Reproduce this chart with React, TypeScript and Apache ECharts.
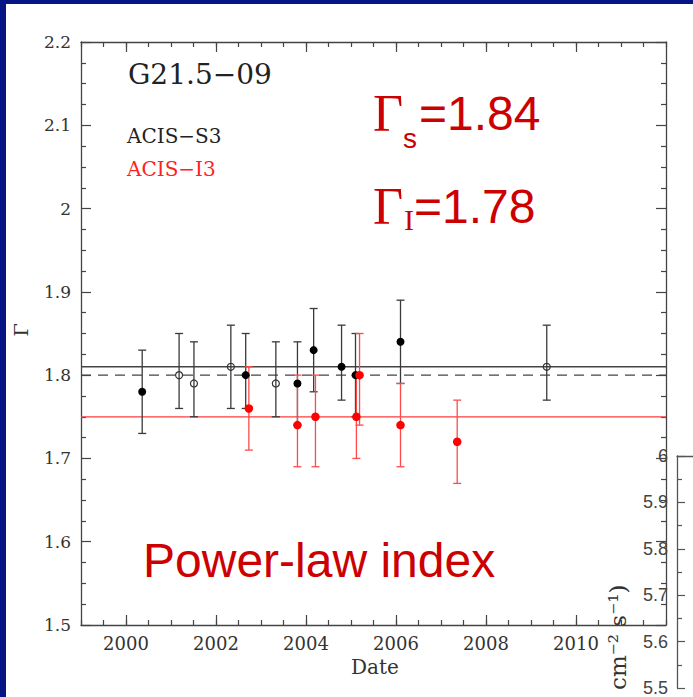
import React, { useEffect, useRef } from "react";
import * as echarts from "echarts";

// ---- data ----
const s3FilledYear = [2000.36, 2002.66, 2003.81, 2004.17, 2004.79, 2005.1, 2006.1];
const s3FilledGamma = [1.78, 1.8, 1.79, 1.83, 1.81, 1.8, 1.84];
const s3FilledLo = [1.73, 1.76, 1.74, 1.78, 1.77, 1.75, 1.79];
const s3FilledHi = [1.83, 1.85, 1.84, 1.88, 1.86, 1.85, 1.89];

const s3OpenYear = [2001.18, 2001.51, 2002.33, 2003.33, 2009.35];
const s3OpenGamma = [1.8, 1.79, 1.81, 1.79, 1.81];
const s3OpenLo = [1.76, 1.75, 1.76, 1.75, 1.77];
const s3OpenHi = [1.85, 1.84, 1.86, 1.84, 1.86];

const i3Year = [2002.73, 2003.81, 2004.21, 2005.12, 2005.19, 2006.1, 2007.36];
const i3Gamma = [1.76, 1.74, 1.75, 1.75, 1.8, 1.74, 1.72];
const i3Lo = [1.71, 1.69, 1.69, 1.7, 1.74, 1.69, 1.67];
const i3Hi = [1.81, 1.8, 1.8, 1.8, 1.85, 1.79, 1.77];

const lineS3 = 1.81;
const lineRef = 1.8;
const lineI3 = 1.75;

const xRange = [1999, 2012];
const xMajorTicks = [2000, 2002, 2004, 2006, 2008, 2010];
const yRange = [1.5, 2.2];
const fluxRange = [5.5, 6.0];

const NAVY = "#061583";
const RED_TXT = "#cc0000";
const SERIF = "DejaVu Serif";
const SANS = "Liberation Sans";

function zip4(a: number[], b: number[], c: number[], d: number[]) {
  return a.map((v, i) => [v, b[i], c[i], d[i]]);
}

function errorBarSeries(data: number[][], color: string) {
  return {
    type: "custom",
    xAxisIndex: 0,
    yAxisIndex: 0,
    silent: true,
    z: 3,
    data,
    renderItem: (params: any, api: any) => {
      const x = api.value(0);
      const lo = api.value(2);
      const hi = api.value(3);
      const pTop = api.coord([x, hi]);
      const pBot = api.coord([x, lo]);
      const cap = 4;
      const st = { stroke: color, lineWidth: 1.3 };
      return {
        type: "group",
        children: [
          { type: "line", shape: { x1: pTop[0], y1: pTop[1], x2: pBot[0], y2: pBot[1] }, style: st },
          { type: "line", shape: { x1: pTop[0] - cap, y1: pTop[1], x2: pTop[0] + cap, y2: pTop[1] }, style: st },
          { type: "line", shape: { x1: pBot[0] - cap, y1: pBot[1], x2: pBot[0] + cap, y2: pBot[1] }, style: st },
        ],
      };
    },
  };
}

function hLine(v: number, color: string, type: any, width: number) {
  return {
    type: "line",
    xAxisIndex: 0,
    yAxisIndex: 0,
    silent: true,
    symbol: "none",
    z: 2,
    lineStyle: { color, type, width },
    data: [
      [xRange[0], v],
      [xRange[1], v],
    ],
  };
}

export default function App() {
  const ref = useRef<HTMLDivElement>(null);

  useEffect(() => {
    document.body.style.margin = "0";
    if (!ref.current) return;
    const chart = echarts.init(ref.current, null, { renderer: "svg" });

    const minorX: number[] = [];
    for (let v = xRange[0]; v <= xRange[1] + 1e-9; v += 0.5) minorX.push(v);

    const axisColor = "#444";
    const tickLabel = { fontFamily: SERIF, fontSize: 17, color: "#333" };
    const mainGrid = { left: 81, top: 42, width: 585, height: 583 };

    const majorX = (gridIndex: number, position: string, labels: boolean) => ({
      type: "value",
      gridIndex,
      position,
      min: xRange[0],
      max: xRange[1],
      axisLine: { onZero: false, lineStyle: { color: axisColor, width: 1.3 } },
      axisTick: { inside: true, length: 10, customValues: xMajorTicks, lineStyle: { color: axisColor, width: 1.2 } },
      axisLabel: labels
        ? { customValues: xMajorTicks, margin: 9, formatter: (v: number) => String(Math.round(v)), ...tickLabel, fontSize: 18 }
        : { show: false },
      splitLine: { show: false },
    });
    const minorXAxis = (gridIndex: number, position: string) => ({
      type: "value",
      gridIndex,
      position,
      min: xRange[0],
      max: xRange[1],
      axisLine: { show: false, onZero: false },
      axisTick: { inside: true, length: 5, customValues: minorX, lineStyle: { color: axisColor, width: 1.2 } },
      axisLabel: { show: false },
      splitLine: { show: false },
    });

    const option: any = {
      animation: false,
      backgroundColor: "#ffffff",
      grid: [
        mainGrid,
        { left: 677, top: 456, width: 80, height: 245 },
        { ...mainGrid },
      ],
      xAxis: [
        majorX(0, "bottom", true),
        majorX(0, "top", false),
        minorXAxis(2, "bottom"),
        minorXAxis(2, "top"),
        {
          type: "value",
          gridIndex: 1,
          position: "top",
          min: 0,
          max: 1,
          axisLine: { onZero: false, lineStyle: { color: "#555", width: 1.3 } },
          axisTick: { show: false },
          axisLabel: { show: false },
          splitLine: { show: false },
        },
      ],
      yAxis: [
        {
          type: "value",
          gridIndex: 0,
          position: "left",
          min: yRange[0],
          max: yRange[1],
          interval: 0.1,
          axisLine: { onZero: false, lineStyle: { color: axisColor, width: 1.3 } },
          axisTick: { inside: true, length: 10, lineStyle: { color: axisColor, width: 1.2 } },
          minorTick: { show: true, splitNumber: 4, length: 5, lineStyle: { color: axisColor, width: 1.2 } },
          axisLabel: { margin: 10, ...tickLabel },
          splitLine: { show: false },
          minorSplitLine: { show: false },
        },
        {
          type: "value",
          gridIndex: 0,
          position: "right",
          min: yRange[0],
          max: yRange[1],
          interval: 0.1,
          axisLine: { onZero: false, lineStyle: { color: axisColor, width: 1.3 } },
          axisTick: { inside: true, length: 10, lineStyle: { color: axisColor, width: 1.2 } },
          minorTick: { show: true, splitNumber: 4, length: 5, lineStyle: { color: axisColor, width: 1.2 } },
          axisLabel: { show: false },
          splitLine: { show: false },
          minorSplitLine: { show: false },
        },
        {
          type: "value",
          gridIndex: 1,
          position: "left",
          min: fluxRange[0],
          max: fluxRange[1],
          interval: 0.1,
          axisLine: { onZero: false, lineStyle: { color: "#555", width: 1.3 } },
          axisTick: { inside: true, length: 8, lineStyle: { color: "#555", width: 1.2 } },
          minorTick: { show: true, splitNumber: 2, length: 5, lineStyle: { color: "#555", width: 1.2 } },
          axisLabel: { margin: 9, fontFamily: SANS, fontSize: 18, color: "#444" },
          splitLine: { show: false },
          minorSplitLine: { show: false },
        },
        {
          type: "value",
          gridIndex: 2,
          show: false,
          min: yRange[0],
          max: yRange[1],
        },
      ],
      series: [
        hLine(lineS3, "#444", "solid", 1.4),
        hLine(lineRef, "#444", [10, 7], 1.4),
        hLine(lineI3, "#ff3b3b", "solid", 1.2),
        errorBarSeries(zip4(s3FilledYear, s3FilledGamma, s3FilledLo, s3FilledHi), "#3a3a3a"),
        errorBarSeries(zip4(s3OpenYear, s3OpenGamma, s3OpenLo, s3OpenHi), "#3a3a3a"),
        errorBarSeries(zip4(i3Year, i3Gamma, i3Lo, i3Hi), "#ff4a4a"),
        {
          type: "scatter",
          xAxisIndex: 0,
          yAxisIndex: 0,
          z: 5,
          symbol: "circle",
          symbolSize: 8,
          itemStyle: { color: "#000000", opacity: 1 },
          data: s3FilledYear.map((x, i) => [x, s3FilledGamma[i]]),
        },
        {
          type: "scatter",
          xAxisIndex: 0,
          yAxisIndex: 0,
          z: 5,
          symbol: "circle",
          symbolSize: 7,
          itemStyle: { color: "rgba(255,255,255,0)", borderColor: "#333", borderWidth: 1.2, opacity: 1 },
          data: s3OpenYear.map((x, i) => [x, s3OpenGamma[i]]),
        },
        {
          type: "scatter",
          xAxisIndex: 0,
          yAxisIndex: 0,
          z: 5,
          symbol: "circle",
          symbolSize: 8.5,
          itemStyle: { color: "#ff0000", opacity: 1 },
          data: i3Year.map((x, i) => [x, i3Gamma[i]]),
        },
        { type: "scatter", xAxisIndex: 4, yAxisIndex: 2, data: [] },
        { type: "scatter", xAxisIndex: 2, yAxisIndex: 3, data: [] },
      ],
      graphic: [
        { type: "rect", z: 100, shape: { x: 0, y: 0, width: 693, height: 4 }, style: { fill: NAVY } },
        { type: "rect", z: 100, shape: { x: 0, y: 0, width: 6, height: 697 }, style: { fill: NAVY } },
        { type: "text", x: 128, y: 74, style: { text: "G21.5−09", fontFamily: SERIF, fontSize: 28, fill: "#222", align: "left", verticalAlign: "middle" } },
        { type: "text", x: 127, y: 136, style: { text: "ACIS−S3", fontFamily: SERIF, fontSize: 20, fill: "#222", align: "left", verticalAlign: "middle" } },
        { type: "text", x: 127, y: 169, style: { text: "ACIS−I3", fontFamily: SERIF, fontSize: 20, fill: "#ff2020", align: "left", verticalAlign: "middle" } },
        { type: "text", x: 373, y: 113, style: { text: "Γ", fontFamily: "Liberation Serif", fontSize: 52, fill: RED_TXT, align: "left", verticalAlign: "middle" } },
        { type: "text", x: 403, y: 138, style: { text: "s", fontFamily: SANS, fontSize: 28, fill: RED_TXT, align: "left", verticalAlign: "middle" } },
        { type: "text", x: 419, y: 113, style: { text: "=1.84", fontFamily: SANS, fontSize: 48, fill: RED_TXT, align: "left", verticalAlign: "middle" } },
        { type: "text", x: 373, y: 206, style: { text: "Γ", fontFamily: "Liberation Serif", fontSize: 52, fill: RED_TXT, align: "left", verticalAlign: "middle" } },
        { type: "text", x: 404, y: 219, style: { text: "I", fontFamily: "Liberation Serif", fontSize: 30, fill: RED_TXT, align: "left", verticalAlign: "middle" } },
        { type: "text", x: 414, y: 206, style: { text: "=1.78", fontFamily: SANS, fontSize: 48, fill: RED_TXT, align: "left", verticalAlign: "middle" } },
        { type: "text", x: 143, y: 560, style: { text: "Power-law index", fontFamily: SANS, fontSize: 48, fill: RED_TXT, align: "left", verticalAlign: "middle" } },
        { type: "text", x: 21, y: 330, rotation: Math.PI / 2, style: { text: "Γ", fontFamily: SERIF, fontSize: 19, fill: "#333", align: "center", verticalAlign: "middle" } },
        { type: "text", x: 375, y: 667, style: { text: "Date", fontFamily: SERIF, fontSize: 20, fill: "#333", align: "center", verticalAlign: "middle" } },
        { type: "text", x: 618, y: 690, rotation: Math.PI / 2, style: { text: "cm⁻² s⁻¹)", fontFamily: SERIF, fontSize: 23, fill: "#333", align: "left", verticalAlign: "middle" } },
      ],
    };

    chart.setOption(option);
    return () => chart.dispose();
  }, []);

  return <div ref={ref} style={{ width: 693, height: 697 }} />;
}
